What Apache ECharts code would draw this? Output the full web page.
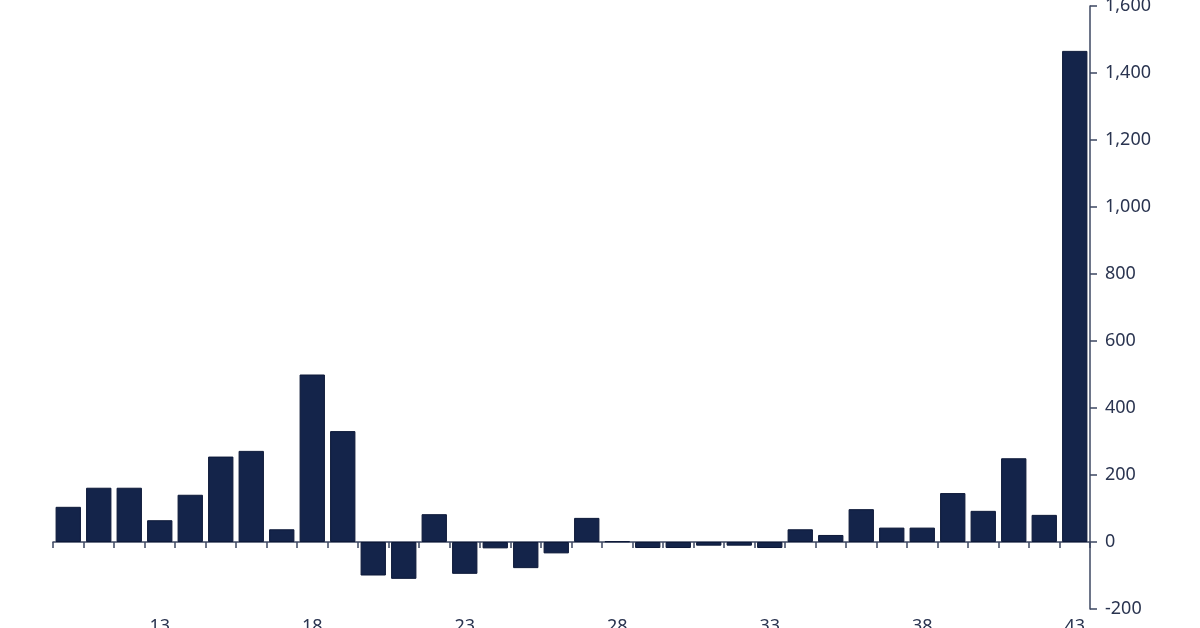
<!DOCTYPE html>
<html>
<head>
<meta charset="utf-8">
<script src="https://cdn.jsdelivr.net/npm/echarts@6/dist/echarts.min.js"></script>
<style>
  html, body { margin: 0; padding: 0; background: #fff; }
  #chart { width: 1200px; height: 628px; }
</style>
</head>
<body>
<div id="chart"></div>
<script>
// categories (only every 5th one is labelled in the picture)
var categories = ['10','11','12','13','14','15','16','17','18','19',
                  '20','21','22','23','24','25','26','27','28','29',
                  '30','31','32','33','34','35','36','37','38','39',
                  '40','41','42','43'];
// bar values
var values = [105, 162, 162, 65, 141, 255, 272, 38, 500, 331,
              -100, -110, 83, -95, -19, -78, -34, 72, 2, -18,
              -18, -11, -11, -18, 38, 21, 98, 43, 43, 146,
              93, 250, 81, 1466];
// y axis
var y_min = -200;
var y_max = 1600;
var y_step = 200;

var navy = '#14244a';
var axis_color = '#3d4762';
var text_color = '#2a3450';

var myChart = echarts.init(document.getElementById('chart'));

myChart.setOption({
	backgroundColor: '#fff',
	animation: false,
	grid: { left: 53, right: 110, top: 6, bottom: 19, containLabel: false, outerBoundsMode: 'none' },
	xAxis: [
		{
			type: 'category',
			data: categories,
			axisLine: { onZero: true, lineStyle: { color: axis_color, width: 1.5 } },
			axisTick: { show: true, length: 6, lineStyle: { color: axis_color, width: 1.5 } },
			axisLabel: { show: false }
		},
		{
			//底部标签轴，只显示文字
			type: 'category',
			data: categories,
			position: 'bottom',
			axisLine: { show: false, onZero: false },
			axisTick: { show: false },
			axisLabel: {
				margin: 9,
				fontFamily: 'Noto Sans',
				fontSize: 18,
				color: text_color,
				interval: function (index) { return index % 5 === 3; }
			}
		}
	],
	yAxis: {
		type: 'value',
		position: 'right',
		min: y_min,
		max: y_max,
		interval: y_step,
		splitLine: { show: false },
		axisLine: { show: true, lineStyle: { color: axis_color, width: 1.5 } },
		axisTick: { show: true, length: 7, lineStyle: { color: axis_color, width: 1.5 } },
		axisLabel: {
			margin: 15,
			fontFamily: 'Noto Sans',
			fontSize: 18,
			color: text_color,
			formatter: function (v) { return v.toLocaleString('en-US'); }
		}
	},
	series: [{
		type: 'bar',
		data: values,
		xAxisIndex: 0,
		barCategoryGap: '17%',
		itemStyle: { color: navy, borderColor: '#0c1838', borderWidth: 1 }
	}]
});
</script>
</body>
</html>
